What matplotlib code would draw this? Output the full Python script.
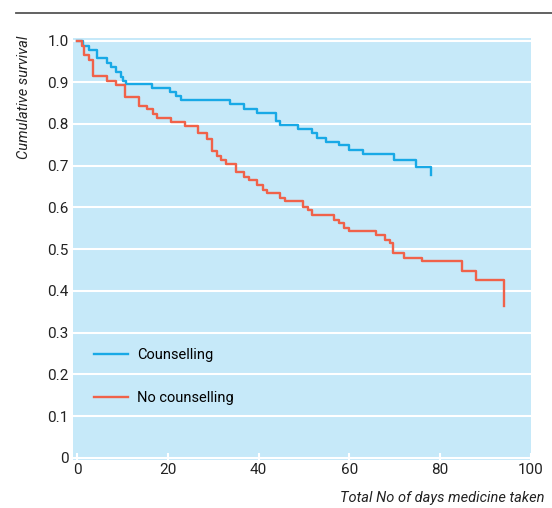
import matplotlib
matplotlib.use("Agg")
import matplotlib.pyplot as plt
from matplotlib.lines import Line2D

# step points (days, cumulative survival)
couns_x = [0, 1.2, 2.6, 4.3, 6.5, 7.4, 8.5, 9.7, 10.2, 10.8, 16.6, 20.5, 21.8, 22.8,
           33.7, 36.8, 39.6, 43.8, 44.8, 48.6, 51.7, 52.9, 54.8, 57.7, 59.8, 62.9,
           69.8, 74.7, 77.9]
couns_y = [1.0, 0.988, 0.977, 0.957, 0.945, 0.936, 0.925, 0.913, 0.904, 0.896, 0.886,
           0.877, 0.866, 0.857, 0.849, 0.837, 0.827, 0.806, 0.798, 0.787, 0.778, 0.767,
           0.757, 0.749, 0.737, 0.727, 0.714, 0.698, 0.678]

nocouns_x = [0, 1.0, 1.5, 2.7, 3.6, 6.5, 8.6, 10.6, 13.7, 15.5, 16.7, 17.7, 20.6, 23.7,
             26.7, 28.6, 29.8, 30.8, 31.7, 32.8, 34.9, 36.7, 37.9, 39.7, 40.9, 41.8,
             44.7, 45.9, 49.8, 50.9, 51.7, 56.6, 57.8, 58.8, 59.8, 65.9, 67.8, 69.0,
             69.7, 72.0, 75.9, 84.9, 87.9, 94.0]
nocouns_y = [1.0, 0.986, 0.966, 0.953, 0.916, 0.902, 0.894, 0.865, 0.842, 0.835, 0.824,
             0.814, 0.804, 0.795, 0.778, 0.764, 0.735, 0.724, 0.714, 0.703, 0.685, 0.673,
             0.665, 0.653, 0.643, 0.634, 0.622, 0.615, 0.602, 0.593, 0.583, 0.571, 0.563,
             0.552, 0.543, 0.533, 0.521, 0.515, 0.491, 0.480, 0.471, 0.447, 0.426, 0.363]

xticks = [0, 20, 40, 60, 80, 100]
yticks = [0, 0.1, 0.2, 0.3, 0.4, 0.5, 0.6, 0.7, 0.8, 0.9, 1.0]
ytick_labels = ['0', '0.1', '0.2', '0.3', '0.4', '0.5', '0.6', '0.7', '0.8', '0.9', '1.0']

blue = '#18a9e6'
red = '#f0624a'

plt.rcParams['font.family'] = ['Roboto', 'DejaVu Sans']

fig = plt.figure(figsize=(5.52, 5.08), dpi=100)
ax = fig.add_axes([73/552, 1-460/508, (531-73)/552, (460-38)/508])
ax.set_facecolor('#c6e9f9')

ax.step(couns_x, couns_y, where='post', color=blue, lw=1.7, label='Counselling')
ax.step(nocouns_x, nocouns_y, where='post', color=red, lw=1.7, label='No counselling')

ax.set_xlim(-0.9, 100)
ax.set_ylim(-0.005, 1.006)
ax.set_xticks(xticks)
ax.set_yticks(yticks)
ax.set_yticklabels(ytick_labels)
ax.yaxis.grid(True, color='white', lw=1.5)
ax.set_axisbelow(True)
for s in ax.spines.values():
    s.set_visible(False)
ax.tick_params(axis='x', direction='in', length=5, width=1.5,
               labelsize=11, pad=2, labelcolor='#222222', color='white')
ax.tick_params(axis='y', length=0, labelsize=11, pad=3, labelcolor='#222222')

ax.legend(loc='lower left', bbox_to_anchor=(0.018, 0.10), frameon=False,
          fontsize=10.5, handlelength=2.3, labelspacing=1.95, handletextpad=0.6)

fig.text(24/552, 1-36/508, 'Cumulative survival', rotation=90, style='italic',
         fontsize=10.5, ha='center', va='top', color='#222222')
fig.text(545/552, 1-498/508, 'Total No of days medicine taken', style='italic',
         fontsize=10.5, ha='right', va='center', color='#222222')
fig.add_artist(Line2D([16/552, 1], [1-13/508, 1-13/508], color='#555555', lw=1.3))

fig.savefig('out.png', dpi=100)
